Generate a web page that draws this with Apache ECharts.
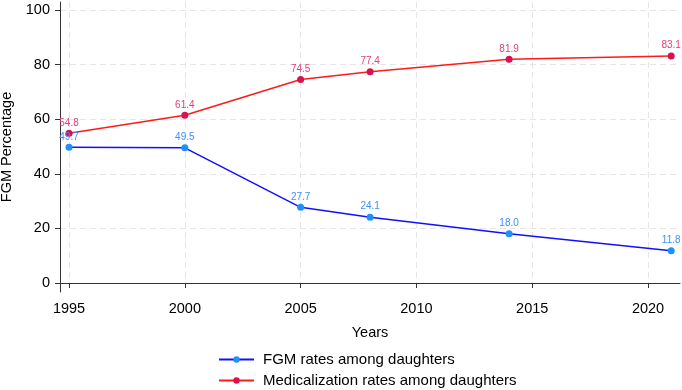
<!DOCTYPE html>
<html><head><meta charset="utf-8">
<script src="https://cdn.jsdelivr.net/npm/echarts@6/dist/echarts.min.js"></script>
<style>html,body{margin:0;padding:0;background:#fff}#c{width:682px;height:390px}</style>
</head><body><div id="c"></div>
<script>
const years = [1995, 2000, 2005, 2008, 2014, 2021];
const fgmRates = [49.7, 49.5, 27.7, 24.1, 18.0, 11.8];
const medRates = [54.8, 61.4, 74.5, 77.4, 81.9, 83.1];
const xTicks = [1995, 2000, 2005, 2010, 2015, 2020];
const yTicks = [0, 20, 40, 60, 80, 100];
const seriesNames = ['FGM rates among daughters', 'Medicalization rates among daughters'];

const font = 'Liberation Sans, Arial, sans-serif';
const chart = echarts.init(document.getElementById('c'));
const pair = (xs, ys) => xs.map((x, i) => [x, ys[i]]);
chart.setOption({
  animation: false,
  grid: {left: 60, right: 2, top: 2, bottom: 98, containLabel: false, outerBoundsMode: 'none'},
  xAxis: {
    type: 'value', min: 1994.61, max: 2021.38,
    name: 'Years', nameLocation: 'middle', nameGap: 33,
    nameTextStyle: {fontFamily: font, fontSize: 14.5, color: '#000'},
    axisLine: {show: true, lineStyle: {color: '#333', width: 1}},
    axisTick: {show: true, length: 5, customValues: xTicks, lineStyle: {color: '#333'}},
    axisLabel: {customValues: xTicks, fontFamily: font, fontSize: 14.5, color: '#000', margin: 9, formatter: v => String(v)},
    splitLine: {show: true, lineStyle: {color: '#e6e6e6', type: [6, 4], width: 1}}
  },
  yAxis: {
    type: 'value', min: -3.3, max: 102.9,
    name: 'FGM Percentage', nameLocation: 'middle', nameGap: 44,
    nameTextStyle: {fontFamily: font, fontSize: 14.5, color: '#000'},
    axisLine: {show: true, lineStyle: {color: '#333', width: 1}},
    axisTick: {show: true, length: 5, customValues: yTicks, lineStyle: {color: '#333'}},
    axisLabel: {customValues: yTicks, fontFamily: font, fontSize: 14.5, color: '#000', margin: 10},
    splitLine: {show: true, lineStyle: {color: '#e6e6e6', type: [6, 4], width: 1}}
  },
  legend: {
    orient: 'vertical', left: 218, top: 352, padding: 0, height: 40, itemWidth: 35, itemHeight: 8, itemGap: 6,
    textStyle: {fontFamily: font, fontSize: 15, color: '#000', padding: [0, 0, 0, 4]},
    data: seriesNames
  },
  series: [
    {
      name: seriesNames[0], type: 'line', data: pair(years, fgmRates),
      symbol: 'circle', symbolSize: 7,
      lineStyle: {color: '#1010ff', width: 1.5},
      itemStyle: {color: '#1e90ff'},
      label: {show: true, position: 'top', distance: 2, fontFamily: font, fontSize: 10, color: '#3d8fff', formatter: p => p.value[1].toFixed(1)}
    },
    {
      name: seriesNames[1], type: 'line', data: pair(years, medRates),
      symbol: 'circle', symbolSize: 7,
      lineStyle: {color: '#ff1a1a', width: 1.5},
      itemStyle: {color: '#d6134f'},
      label: {show: true, position: 'top', distance: 2, fontFamily: font, fontSize: 10, color: '#e0407a', formatter: p => p.value[1].toFixed(1)}
    }
  ]
});
</script></body></html>
